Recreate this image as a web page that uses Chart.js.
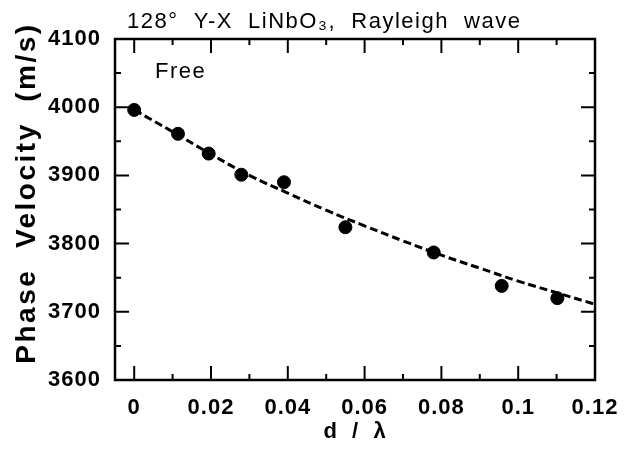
<!DOCTYPE html>
<html>
<head>
<meta charset="utf-8">
<script src="https://cdn.jsdelivr.net/npm/chart.js@4.4.1/dist/chart.umd.min.js"></script>
<style>
  html, body { margin: 0; padding: 0; background: #fff; }
  #wrap { width: 625px; height: 450px; }
</style>
</head>
<body>
<div id="wrap"><canvas id="graphique"></canvas></div>
<script>
// measured points, d/lambda vs phase velocity (m/s)
const ptsX = [0, 0.0114, 0.0194, 0.0279, 0.039, 0.055, 0.078, 0.0957, 0.1102];
const ptsY = [3996, 3961, 3932, 3901, 3890, 3824, 3787, 3738, 3720];

// dashed fit curve
const fitX = [0, 0.01, 0.02, 0.03, 0.04, 0.05, 0.06, 0.07, 0.08, 0.09, 0.1, 0.11, 0.12];
const fitY = [3996, 3964, 3931, 3900, 3874, 3849, 3826, 3804, 3783, 3764, 3745, 3728, 3711];

// ticks
const xMajor = [0, 0.02, 0.04, 0.06, 0.08, 0.1, 0.12];
const xMinor = [0.01, 0.03, 0.05, 0.07, 0.09, 0.11];
const yMajor = [3600, 3700, 3800, 3900, 4000, 4100];
const yMinor = [3650, 3750, 3850, 3950, 4050];

const titre = '128°  Y-X  LiNbO₃,  Rayleigh  wave';
const titreY = 'Phase  Velocity  (m/s)';
const titreX = 'd  /  λ';
const note = 'Free';

const FONT = "'Liberation Sans', Arial, Helvetica, sans-serif";
const ESPACE = '1px';

Chart.defaults.font.family = FONT;
Chart.defaults.color = '#000';

// a little letter spacing, the scan's lettering is wide
const espacement = {
  id: 'espacement',
  beforeLayout(chart) { chart.ctx.letterSpacing = ESPACE; },
  beforeDraw(chart) { chart.ctx.letterSpacing = ESPACE; }
};

// frame, inward ticks on the 4 sides, title, y title and the "Free" note
const cadre = {
  id: 'cadre',
  afterDraw(chart) {
    const ctx = chart.ctx;
    const a = chart.chartArea;
    const sx = chart.scales.x, sy = chart.scales.y;
    ctx.save();
    ctx.strokeStyle = '#000';
    ctx.lineWidth = 2;
    ctx.beginPath();
    const ticX = (vals, len) => {
      vals.forEach(v => {
        const px = sx.getPixelForValue(v);
        ctx.moveTo(px, a.bottom); ctx.lineTo(px, a.bottom - len);
        ctx.moveTo(px, a.top); ctx.lineTo(px, a.top + len);
      });
    };
    const ticY = (vals, len) => {
      vals.forEach(v => {
        const py = sy.getPixelForValue(v);
        ctx.moveTo(a.left, py); ctx.lineTo(a.left + len, py);
        ctx.moveTo(a.right, py); ctx.lineTo(a.right - len, py);
      });
    };
    ticX(xMajor, 14); ticX(xMinor, 6);
    ticY(yMajor, 14); ticY(yMinor, 6);
    ctx.stroke();

    ctx.lineWidth = 2.5;
    ctx.strokeRect(a.left, a.top, a.right - a.left, a.bottom - a.top);

    ctx.letterSpacing = '1.5px';
    ctx.fillStyle = '#000';
    ctx.textBaseline = 'alphabetic';
    ctx.textAlign = 'left';
    ctx.font = '22px ' + FONT;
    ctx.fillText(titre, 127, 28);
    ctx.fillText(note, 155, 78);

    ctx.letterSpacing = '2.5px';
    ctx.font = 'bold 28px ' + FONT;
    ctx.translate(35, 193);
    ctx.rotate(-Math.PI / 2);
    ctx.textAlign = 'center';
    ctx.fillText(titreY, 0, 0);
    ctx.restore();
  }
};

const ctx = document.getElementById('graphique').getContext('2d');
new Chart(ctx, {
  type: 'scatter',
  data: {
    datasets: [
      {
        label: 'fit',
        data: fitX.map((x, i) => ({ x: x, y: fitY[i] })),
        showLine: true,
        borderColor: '#000',
        borderWidth: 3,
        borderDash: [8, 4],
        pointRadius: 0,
        tension: 0.4,
        order: 2
      },
      {
        label: 'Free',
        data: ptsX.map((x, i) => ({ x: x, y: ptsY[i] })),
        backgroundColor: '#000',
        borderColor: '#000',
        pointRadius: 6.5,
        order: 1
      }
    ]
  },
  options: {
    responsive: true,
    maintainAspectRatio: false,
    animation: false,
    layout: { padding: { left: 0, right: 30, top: 39, bottom: 0 } },
    plugins: {
      legend: { display: false },
      tooltip: { enabled: false },
      title: { display: false }
    },
    scales: {
      x: {
        type: 'linear',
        min: -0.005,
        max: 0.12,
        afterBuildTicks: s => { s.ticks = xMajor.map(v => ({ value: v })); },
        afterFit: s => { s.height = 70; s.paddingLeft = 0; s.paddingRight = 0; },
        grid: { display: false, drawTicks: false },
        border: { display: false },
        ticks: {
          padding: 15,
          maxRotation: 0,
          autoSkip: false,
          font: { size: 22, weight: 'bold' },
          callback: v => String(v)
        },
        title: {
          display: true,
          text: titreX,
          font: { size: 22, weight: 'bold' },
          padding: { top: 0, bottom: 5 }
        }
      },
      y: {
        type: 'linear',
        min: 3600,
        max: 4100,
        afterBuildTicks: s => { s.ticks = yMajor.map(v => ({ value: v })); },
        afterFit: s => { s.width = 115; s.paddingTop = 0; s.paddingBottom = 0; },
        grid: { display: false, drawTicks: false },
        border: { display: false },
        ticks: {
          padding: 14,
          font: { size: 22, weight: 'bold' },
          callback: v => String(v)
        }
      }
    }
  },
  plugins: [espacement, cadre]
});
</script>
</body>
</html>
